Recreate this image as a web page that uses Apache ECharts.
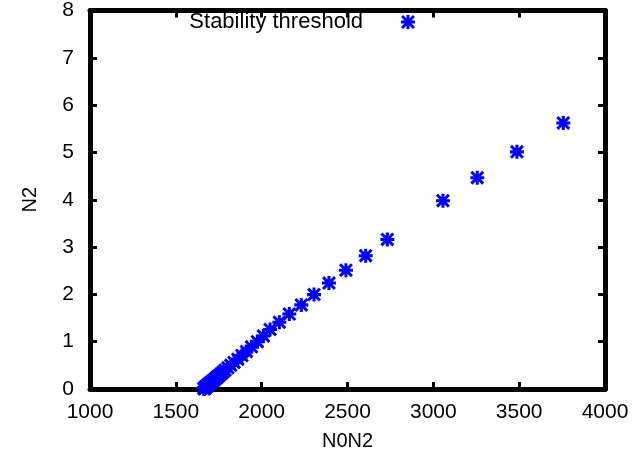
<!DOCTYPE html>
<html>
<head>
<meta charset="utf-8">
<script src="https://cdn.jsdelivr.net/npm/echarts@6/dist/echarts.min.js"></script>
<style>html,body{margin:0;padding:0;background:#fff}#c{width:635px;height:465px}</style>
</head>
<body>
<div id="c"></div>
<script>
// Data (N0N2, N2)
const seriesName = 'Stability threshold';
const n0n2 = [3757, 3487, 3256, 3056, 2732, 2606, 2491, 2392, 2305, 2231, 2161, 2103, 2049, 2010, 1975,
  1941, 1911, 1885, 1861, 1839, 1820, 1803, 1787, 1774, 1762, 1751, 1741, 1733, 1725, 1718, 1712, 1706,
  1701, 1697, 1693, 1689, 1686, 1684, 1681, 1679, 1677, 1675, 1674, 1672, 1671, 1670, 1669, 1668, 1667,
  1667, 1666, 1665, 1665, 1665, 1664];
const n2 = [5.623, 5.012, 4.467, 3.981, 3.162, 2.818, 2.512, 2.239, 1.995, 1.778, 1.585, 1.413, 1.259, 1.122, 1.0,
  0.891, 0.794, 0.708, 0.631, 0.562, 0.501, 0.447, 0.398, 0.355, 0.316, 0.282, 0.251, 0.224, 0.200, 0.178, 0.158, 0.141,
  0.126, 0.112, 0.100, 0.089, 0.079, 0.071, 0.063, 0.056, 0.050, 0.045, 0.040, 0.035, 0.032, 0.028, 0.025, 0.022, 0.020,
  0.018, 0.016, 0.014, 0.013, 0.011, 0.010];
const xTicks = [1000, 4000, 500];
const yTicks = [0, 8, 1];

const star = 'path://M0 4.7L12 4.7L12 7.3L0 7.3Z M4.7 0L7.3 0L7.3 12L4.7 12Z M0 1.8L1.8 0L12 10.2L10.2 12Z M10.2 0L12 1.8L1.8 12L0 10.2Z';
const font = 'Liberation Sans, Arial, sans-serif';
const points = n0n2.map((x, i) => [x, n2[i]]);

const chart = echarts.init(document.getElementById('c'), null, {renderer: 'canvas'});
const axisCommon = {
  type: 'value',
  splitLine: {show: false},
  axisLine: {show: true, onZero: false, lineStyle: {color: '#000', width: 5}},
  axisTick: {show: true, inside: true, length: 7, lineStyle: {color: '#000', width: 3}},
};
chart.setOption({
  animation: false,
  backgroundColor: '#fff',
  grid: {left: 90, right: 30, top: 4, bottom: 76, containLabel: false},
  legend: {
    top: 6, right: 215, align: 'right', itemWidth: 14, itemHeight: 14,
    data: [{name: seriesName, icon: star}],
    textStyle: {fontFamily: font, fontSize: 22, color: '#000', padding: [0, 33, 0, 0]}
  },
  xAxis: [
    Object.assign({}, axisCommon, {
      position: 'bottom', min: xTicks[0], max: xTicks[1], interval: xTicks[2],
      name: 'N0N2', nameLocation: 'middle', nameGap: 42,
      nameTextStyle: {fontFamily: font, fontSize: 20, color: '#000'},
      axisLabel: {fontFamily: font, fontSize: 21, color: '#000', margin: 13, formatter: v => String(v)}
    }),
    Object.assign({}, axisCommon, {
      position: 'top', min: xTicks[0], max: xTicks[1], interval: xTicks[2],
      axisLabel: {show: false}
    })
  ],
  yAxis: [
    Object.assign({}, axisCommon, {
      position: 'left', min: yTicks[0], max: yTicks[1], interval: yTicks[2],
      name: 'N2', nameLocation: 'middle', nameGap: 50,
      nameTextStyle: {fontFamily: font, fontSize: 20, color: '#000'},
      axisLabel: {fontFamily: font, fontSize: 21, color: '#000', margin: 16, formatter: v => String(v)}
    }),
    Object.assign({}, axisCommon, {
      position: 'right', min: yTicks[0], max: yTicks[1], interval: yTicks[2],
      axisLabel: {show: false}
    })
  ],
  series: [{
    name: seriesName,
    type: 'scatter',
    xAxisIndex: 0, yAxisIndex: 0,
    symbol: star,
    symbolSize: 14,
    itemStyle: {color: '#0000ff', opacity: 1},
    data: points,
    z: 1
  }]
});
</script>
</body>
</html>
